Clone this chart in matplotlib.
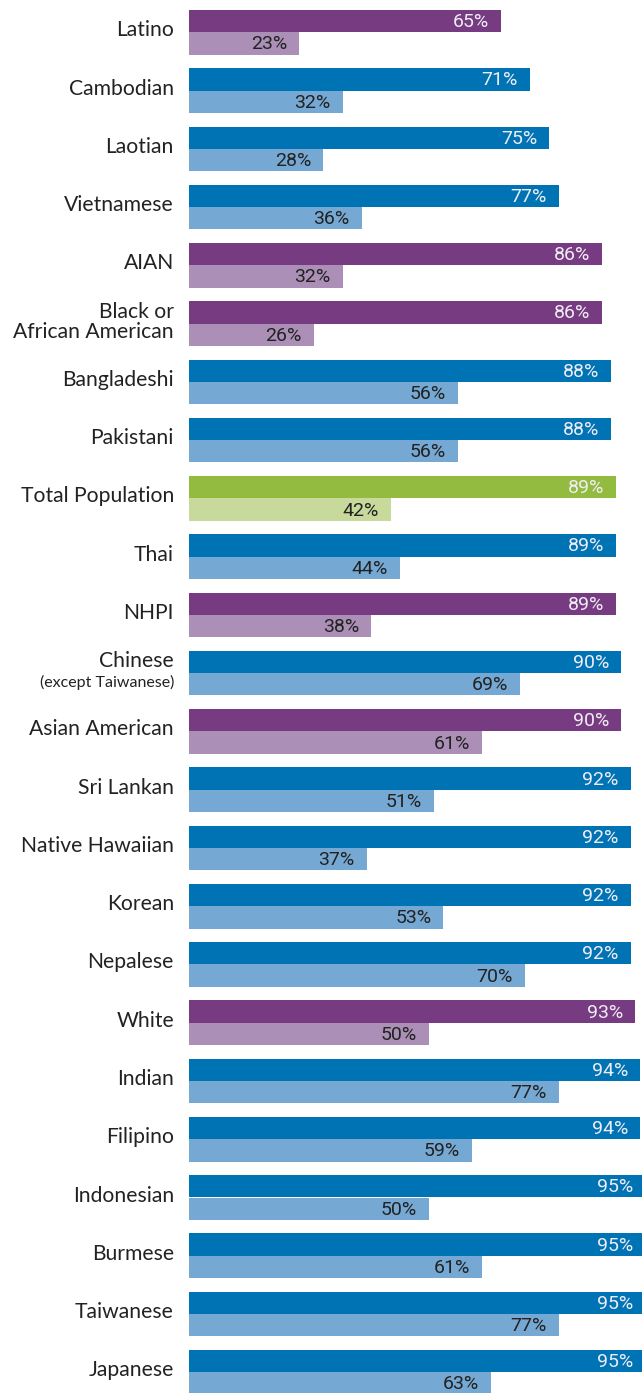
import matplotlib
matplotlib.use("Agg")
import matplotlib.pyplot as plt

# Share of each group for the two measures (top bar / bottom bar), in percent
groups = [
    "Latino", "Cambodian", "Laotian", "Vietnamese", "AIAN",
    "Black or\nAfrican American", "Bangladeshi", "Pakistani",
    "Total Population", "Thai", "NHPI", "Chinese", "Asian American",
    "Sri Lankan", "Native Hawaiian", "Korean", "Nepalese", "White",
    "Indian", "Filipino", "Indonesian", "Burmese", "Taiwanese", "Japanese",
]
top_values = [65, 71, 75, 77, 86, 86, 88, 88, 89, 89, 89, 90, 90,
              92, 92, 92, 92, 93, 94, 94, 95, 95, 95, 95]
bottom_values = [23, 32, 28, 36, 32, 26, 56, 56, 42, 44, 38, 69, 61,
                 51, 37, 53, 70, 50, 77, 59, 50, 61, 77, 63]
# Group kind: race/ethnicity total, Asian subgroup, or the full population
kinds = ["race", "asian", "asian", "asian", "race", "race", "asian", "asian",
         "total", "asian", "race", "asian", "race", "asian", "asian", "asian",
         "asian", "race", "asian", "asian", "asian", "asian", "asian", "asian"]

palette = {
    "race": ("#763b80", "#ab8fb6"),
    "asian": ("#0073b5", "#75a8d3"),
    "total": ("#93bb40", "#c7d99b"),
}

W, H, DPI = 642, 1393, 100
fig = plt.figure(figsize=(W / DPI, H / DPI), dpi=DPI)
fig.patch.set_facecolor("white")

px_per_pct = 4.8
x0 = 189
ax = fig.add_axes([x0 / W, 0, (W - x0) / W, 1])
ax.set_xlim(0, (W - x0) / px_per_pct)

pitch = 58.26
first_center = 32.3
ax.set_ylim((H - first_center) / pitch, -first_center / pitch)
ax.axis("off")

bar_h = 22.3 / pitch
label_font = "Lato"
num_font = "Roboto"
text_dark = "#222222"

for i, (name, tv, bv, kind) in enumerate(zip(groups, top_values, bottom_values, kinds)):
    dark, light = palette[kind]
    ax.barh(i - bar_h / 2, tv, height=bar_h, color=dark, linewidth=0)
    ax.barh(i + bar_h / 2, bv, height=bar_h, color=light, linewidth=0)
    ax.annotate(f"{tv}%", (tv, i - bar_h / 2), xytext=(-12, -1),
                textcoords="offset pixels", ha="right", va="center",
                fontsize=14, family=num_font, color="#f0ecf4",
                annotation_clip=False)
    ax.annotate(f"{bv}%", (bv, i + bar_h / 2), xytext=(-12, -1),
                textcoords="offset pixels", ha="right", va="center",
                fontsize=14, family=num_font, color=text_dark,
                annotation_clip=False)

    if name == "Chinese":
        ax.annotate("Chinese", (0, i), xytext=(-15, 12), textcoords="offset pixels",
                    ha="right", va="center", fontsize=15.2, family=label_font,
                    color=text_dark, annotation_clip=False)
        ax.annotate("(except Taiwanese)", (0, i), xytext=(-15, -9),
                    textcoords="offset pixels", ha="right", va="center",
                    fontsize=11.5, family=label_font,
                    color=text_dark, annotation_clip=False)
    else:
        ax.annotate(name, (0, i), xytext=(-15, 2), textcoords="offset pixels",
                    ha="right", va="center", fontsize=15.2, family=label_font,
                    color=text_dark, linespacing=1.0,
                    annotation_clip=False)

fig.savefig("out.png", dpi=DPI, facecolor="white")
